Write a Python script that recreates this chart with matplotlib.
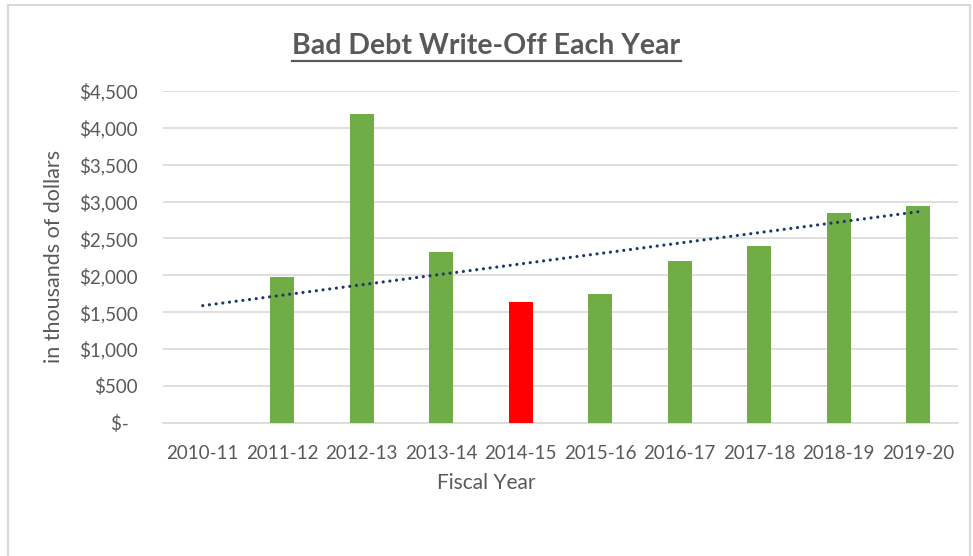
import matplotlib
matplotlib.use("Agg")
import matplotlib.pyplot as plt
from matplotlib.lines import Line2D
from matplotlib.patches import Rectangle
import numpy as np

# Data (thousands of dollars)
years = ['2010-11', '2011-12', '2012-13', '2013-14', '2014-15',
         '2015-16', '2016-17', '2017-18', '2018-19', '2019-20']
write_off = [0, 1980, 4190, 2320, 1635, 1745, 2195, 2395, 2850, 2945]
highlight = '2014-15'

green = '#70AD47'
red = '#FF0000'
grey_text = '#595959'
grid_col = '#D9D9D9'

plt.rcParams['font.family'] = ['Lato', 'DejaVu Sans']

fig = plt.figure(figsize=(9.73, 5.56), dpi=100)
ax = fig.add_axes([0.1675, 0.2397, 0.8171, 0.5966])

x = np.arange(len(years))
colors = [red if y == highlight else green for y in years]
ax.bar(x, write_off, width=0.3, color=colors, zorder=3)

# linear trendline
coef = np.polyfit(x + 1, write_off, 1)
trend = np.polyval(coef, x + 1)
ax.plot(x, trend, color='#1F3864', linewidth=2.3, linestyle=(0, (0.01, 2.1)),
        dash_capstyle='round', zorder=4)

ax.set_xlim(-0.5, len(years) - 0.5)
ax.set_ylim(0, 4500)
ticks = np.arange(0, 4501, 500)
ax.set_yticks(ticks)
ax.set_yticklabels(['$-  ' if t == 0 else '${:,}'.format(t) for t in ticks])
ax.set_xticks(x)
ax.set_xticklabels(years)
ax.tick_params(axis='both', length=0, labelsize=13.5, colors=grey_text)
ax.tick_params(axis='x', pad=16)
ax.tick_params(axis='y', pad=18)

ax.grid(axis='y', color=grid_col, linewidth=1.2, zorder=0)
for s in ['top', 'right', 'left']:
    ax.spines[s].set_visible(False)
ax.spines['bottom'].set_color(grid_col)
ax.spines['bottom'].set_linewidth(1.2)

ax.set_ylabel('in thousands of dollars', fontsize=15.5, color=grey_text)
ax.yaxis.set_label_coords((64 - 163) / 795, 0.5)
fig.text(486 / 973, 1 - 483 / 556, 'Fiscal Year', ha='center', va='center',
         fontsize=15, color=grey_text)

title = fig.text(0.5, 0.918, 'Bad Debt Write-Off Each Year', ha='center', va='center',
                 fontsize=20.5, fontweight='bold', color=grey_text)

# underline the title
fig.canvas.draw()
bb = title.get_window_extent().transformed(fig.transFigure.inverted())
fig.add_artist(Line2D([bb.x0, bb.x1], [bb.y0 - 0.004, bb.y0 - 0.004],
                      transform=fig.transFigure, color=grey_text, linewidth=1.6))

# outer chart border
fig.add_artist(Rectangle((8 / 973, -0.01), 962 / 973, 1 - 5 / 556 + 0.01,
                         transform=fig.transFigure, fill=False,
                         edgecolor=grid_col, linewidth=1.5))

fig.savefig('out.png', dpi=100)
